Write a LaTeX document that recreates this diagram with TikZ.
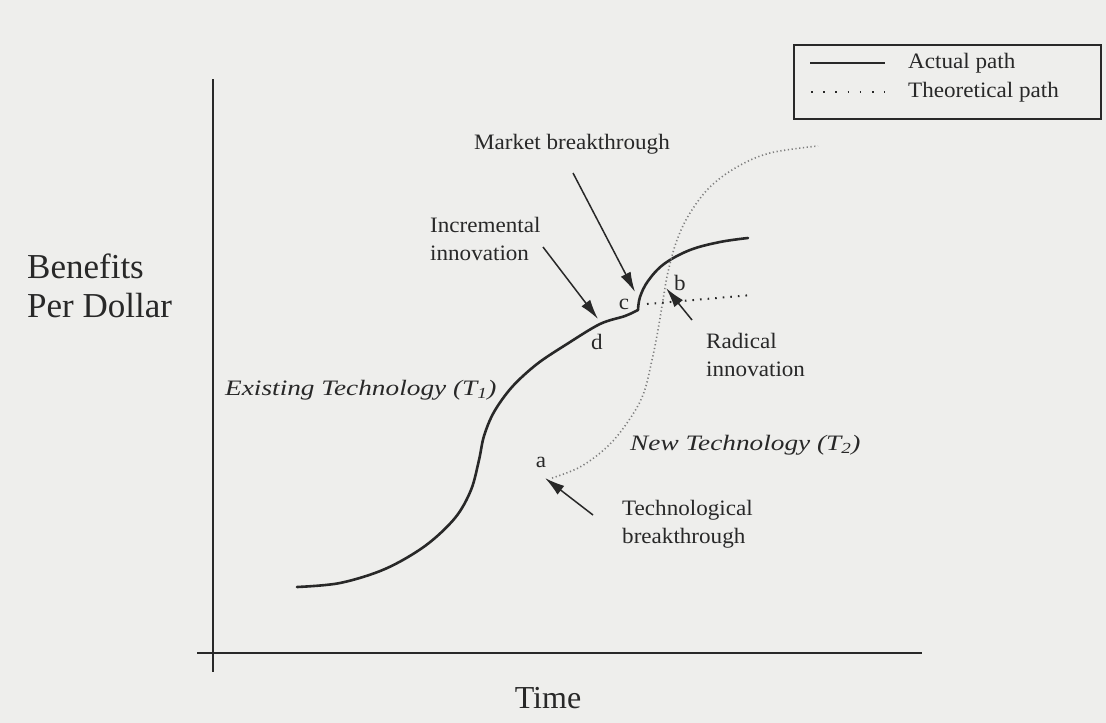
\documentclass[tikz,border=0pt]{standalone}
\usepackage{fontspec}
\setmainfont{Liberation Serif}
\newfontfamily\lblfont{Liberation Serif}[FakeStretch=1.05]
\newfontfamily\itlblfont{Liberation Serif}[FakeStretch=1.24]
\usetikzlibrary{arrows.meta}
\definecolor{bg}{RGB}{238,238,236}
\definecolor{ink}{RGB}{40,40,40}
\definecolor{dotink}{RGB}{125,125,125}
\begin{document}
\begin{tikzpicture}[x=1pt,y=-1pt,
  lbl/.style={font=\lblfont\fontsize{22}{28}\selectfont, text=ink, inner sep=0pt, align=left},
  itlbl/.style={font=\itlblfont\itshape\fontsize{22}{26}\selectfont, text=ink, inner sep=0pt},
  big/.style={font=\fontsize{35}{40}\selectfont, text=ink, inner sep=0pt},
  axisline/.style={draw=ink, line width=2pt},
  actual/.style={draw=ink, line width=2.6pt, line cap=round},
  theo/.style={draw=dotink, line width=1.6pt, dash pattern=on 1.2pt off 2.6pt},
  theodark/.style={draw=ink, line width=2pt, dash pattern=on 1.6pt off 6pt},
  pointer/.style={draw=ink, line width=1.5pt, -{Latex[length=20pt,width=11pt]}},
]
\useasboundingbox[fill=bg] (0,0) rectangle (1106,723);

% axes
\coordinate (ytop) at (213,79);
\coordinate (ybot) at (213,672);
\coordinate (xl) at (197,653);
\coordinate (xr) at (922,653);
\draw[axisline] (ytop) -- (ybot);
\draw[axisline] (xl) -- (xr);

% axis titles
\node[big, anchor=west] (ben) at (27,266) {Benefits};
\node[big, anchor=west] (pd) at (27,306) {Per Dollar};
\node[big, font=\fontsize{32}{36}\selectfont, anchor=center] (time) at (548,698) {Time};

% key points
\coordinate (pa) at (552,478);
\coordinate (pb) at (667,297);
\coordinate (pc) at (638,310);
\coordinate (pd2) at (600,324);

% existing technology (actual path)
\draw[actual] plot[smooth, tension=0.55] coordinates {(297,587) (340,583) (385,569) (425,546) (455,518) (471,490) (479,460) (484,436) (494,412) (512,387) (537,364) (567,344) (pd2) (625,316) (pc)};
\draw[actual] plot[smooth, tension=0.6] coordinates {(pc) (640,297) (648,281) (664,264) (690,250) (720,242) (748,238)};

% new technology (theoretical path)
\draw[theo] plot[smooth, tension=0.6] coordinates {(pa) (580,467) (607,447) (627,423) (643,395) (652,360) (658,330) (663,300) (668,272) (677,240) (690,213) (710,187) (737,167) (770,153) (818,146)};

% theoretical continuation of existing technology
\coordinate (hend) at (752,295);
\draw[theodark] (647,304) -- (hend);

% point labels
\node[lbl] (la) at (541,462) {a};
\node[lbl] (lb) at (680,283) {b};
\node[lbl] (lc) at (624,304) {c};
\node[lbl] (ld) at (597,342) {d};

% annotations
\node[lbl] (mkt) at (572,144) {Market breakthrough};
\node[lbl, anchor=west] (inc) at (430,239) {Incremental\\innovation};
\node[lbl, anchor=west] (rad) at (706,355) {Radical\\innovation};
\node[lbl, anchor=west] (tech) at (622,524) {Technological\\breakthrough};
\node[itlbl, anchor=west] (exist) at (225,390) {Existing Technology (T\textsubscript{1})};
\node[itlbl, anchor=west] (newt) at (630,445) {New Technology (T\textsubscript{2})};

% pointer arrows
\coordinate (mkts) at (573,173);
\coordinate (mkte) at (635,292);
\coordinate (incs) at (543,247);
\coordinate (ince) at (598,319);
\coordinate (rads) at (692,320);
\coordinate (rade) at (666,288);
\coordinate (techs) at (593,515);
\coordinate (teche) at (545,478);
\draw[pointer] (mkts) -- (mkte);
\draw[pointer] (incs) -- (ince);
\draw[pointer] (rads) -- (rade);
\draw[pointer] (techs) -- (teche);

% legend
\node[draw=ink, line width=1.5pt, minimum width=307pt, minimum height=74pt, inner sep=0pt, anchor=north west] (legend) at (793,44) {};
\coordinate (ls1) at (810,63);
\coordinate (ls2) at (885,63);
\coordinate (lt1) at (811,92);
\coordinate (lt2) at (885,92);
\draw[draw=ink, line width=2.2pt] (ls1) -- (ls2);
\draw[draw=ink, line width=2pt, dash pattern=on 1.6pt off 10.6pt] (lt1) -- (lt2);
\node[lbl, anchor=west] (lact) at (908,63) {Actual path};
\node[lbl, anchor=west] (ltheo) at (908,92) {Theoretical path};
\end{tikzpicture}
\end{document}
